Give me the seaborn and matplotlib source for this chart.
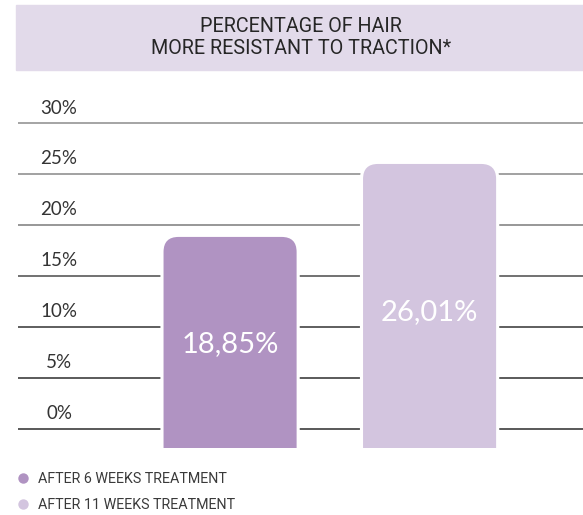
import numpy as np
import seaborn as sns
import matplotlib.pyplot as plt
from matplotlib.patches import FancyBboxPatch, Rectangle
from matplotlib.lines import Line2D
import matplotlib.patheffects as pe

# data
labels = ['AFTER 6 WEEKS TREATMENT', 'AFTER 11 WEEKS TREATMENT']
values = [18.85, 26.01]
value_text = ['18,85%', '26,01%']
ticks = [0, 5, 10, 15, 20, 25, 30]
tick_labels = ['0%', '5%', '10%', '15%', '20%', '25%', '30%']
colors = ['#B093C2', '#D3C5DF']
title = 'PERCENTAGE OF HAIR\nMORE RESISTANT TO TRACTION*'

sns.set_style('white')
plt.rcParams['font.family'] = ['Roboto', 'DejaVu Sans']

fig = plt.figure(figsize=(5.83, 5.15), dpi=100)
ax = fig.add_axes([18/583, 55/515, 565/583, 390/515])

# horizontal lines, lighter at the top
line_colors = ['#2b2b2b', '#2e2e2e', '#333333', '#4a4a4a', '#7a7a7a', '#888888', '#8c8c8c']
for t, lab, c in zip(ticks, tick_labels, line_colors):
    ax.axhline(t, color=c, lw=1.1, zorder=1)
    ax.text(0.0726, t + 1.5, lab, transform=ax.get_yaxis_transform(),
            ha='center', va='center', fontsize=13.5, color='#333333', family=['Lato'])

sns.barplot(x=labels, y=values, hue=labels, palette=colors, width=0.667,
            legend=False, ax=ax, saturation=1)

# swap plain bars for bars with rounded tops starting a bit below zero
base = -1.9
for p in list(ax.patches):
    x, w, h = p.get_x(), p.get_width(), p.get_height()
    col = p.get_facecolor()
    p.remove()
    bar = FancyBboxPatch((x, base - 10), w, h - base + 10,
                         boxstyle='round,pad=0,rounding_size=0.075',
                         mutation_aspect=19.6, facecolor=col, edgecolor='none', zorder=3)
    bar.set_path_effects([pe.withStroke(linewidth=4.5, foreground='white')])
    ax.add_patch(bar)
    clip = Rectangle((x - 0.05, base), w + 0.1, 100, transform=ax.transData)
    bar.set_clip_path(clip)

for i, (v, s) in enumerate(zip(values, value_text)):
    ax.text(i, v * 0.44, s, ha='center', va='center', color='white',
            fontsize=21, family=['Lato'], zorder=4)

ax.set_xlim(-1.063, 1.769)
ax.set_ylim(-3.04, 35.23)
ax.set_xticks([])
ax.set_yticks([])
ax.set_xlabel('')
ax.set_ylabel('')
sns.despine(ax=ax, left=True, bottom=True)

# title band
fig.patches.append(Rectangle((16/583, 1 - 70/515), 567/583, 65/515,
                             transform=fig.transFigure, color='#E2DAEA', zorder=0))
fig.text(301/583, 1 - 38/515, title, ha='center', va='center', fontsize=14.2,
         color='#262626', linespacing=1.2)

handles = [Line2D([], [], marker='o', ls='none', markersize=7.5,
                  markerfacecolor=c, markeredgecolor='none') for c in colors]
fig.legend(handles, labels, loc='upper left', bbox_to_anchor=(7/583, 1 - 465/515),
           frameon=False, fontsize=10.3, labelcolor='#3a3a3a',
           handletextpad=0.5, labelspacing=0.85, borderpad=0, handlelength=1.2)

fig.savefig('out.png', dpi=100)
